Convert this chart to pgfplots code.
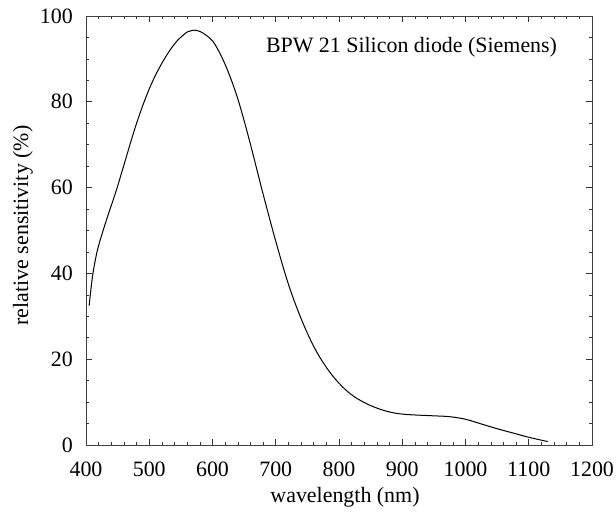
\documentclass[border=0pt]{standalone}
\usepackage{pgfplots}
\pgfplotsset{compat=1.18}
\usepackage{fontspec}
\setmainfont{Liberation Serif}
\newcommand{\bigf}{\fontsize{22}{26}\selectfont}
\begin{document}
\begin{tikzpicture}
\begin{axis}[
  scale only axis,
  width=506bp, height=429bp,
  xmin=400, xmax=1200, ymin=0, ymax=100,
  xtick={400,500,...,1200}, ytick={0,20,...,100},
  minor x tick num=4, minor y tick num=3,
  major tick length=6bp, minor tick length=3bp,
  axis line style={black!75, line width=0.6bp},
  tick style={black!80, line width=0.6bp},
  /pgf/number format/assume math mode=true,
  /pgf/number format/1000 sep={},
  tick label style={font=\bigf, inner sep=0pt},
  xticklabel style={yshift=-17bp},
  yticklabel style={xshift=-13bp},
  xlabel={wavelength (nm)},
  ylabel={relative sensitivity (\%)},
  every axis x label/.style={at={(rel axis cs:0.5,0)}, anchor=center, yshift=-52bp, xshift=6bp, font=\bigf},
  every axis y label/.style={at={(rel axis cs:0,0.5)}, anchor=center, rotate=90, yshift=63bp, xshift=5bp, font=\bigf},
  clip=false,
]
\addplot[black, line width=1bp, smooth, tension=0.6] coordinates {
(405,32.5) (410,39) (415,43.3) (420,46.5) (432,52.3) (448,59.4) (460,65.3)
(480,75) (500,83) (520,89) (540,93.5) (555,95.7) (562,96.4) (570,96.7)
(580,96.4) (590,95.5) (600,94.2) (610,91.8) (620,88.7) (630,85) (640,80.7)
(650,75.6) (660,70.1) (670,64.3) (680,58.5) (700,47.5) (720,37.5)
(740,29.5) (760,23) (780,18.1) (800,14.4) (820,11.7) (840,9.9) (860,8.6)
(880,7.7) (900,7.2) (920,7.0) (950,6.8) (975,6.6) (1000,6.0) (1025,4.9)
(1050,3.8) (1075,2.8) (1100,1.8) (1130,0.8)
};
\node[anchor=base east, inner sep=0, font=\bigf] at (axis cs:1145,91.4) {BPW 21 Silicon diode (Siemens)};
\path (rel axis cs:0,0) ++(-86bp,-69bp);
\path (rel axis cs:1,1) ++(24bp,16bp);
\end{axis}
\end{tikzpicture}
\end{document}
